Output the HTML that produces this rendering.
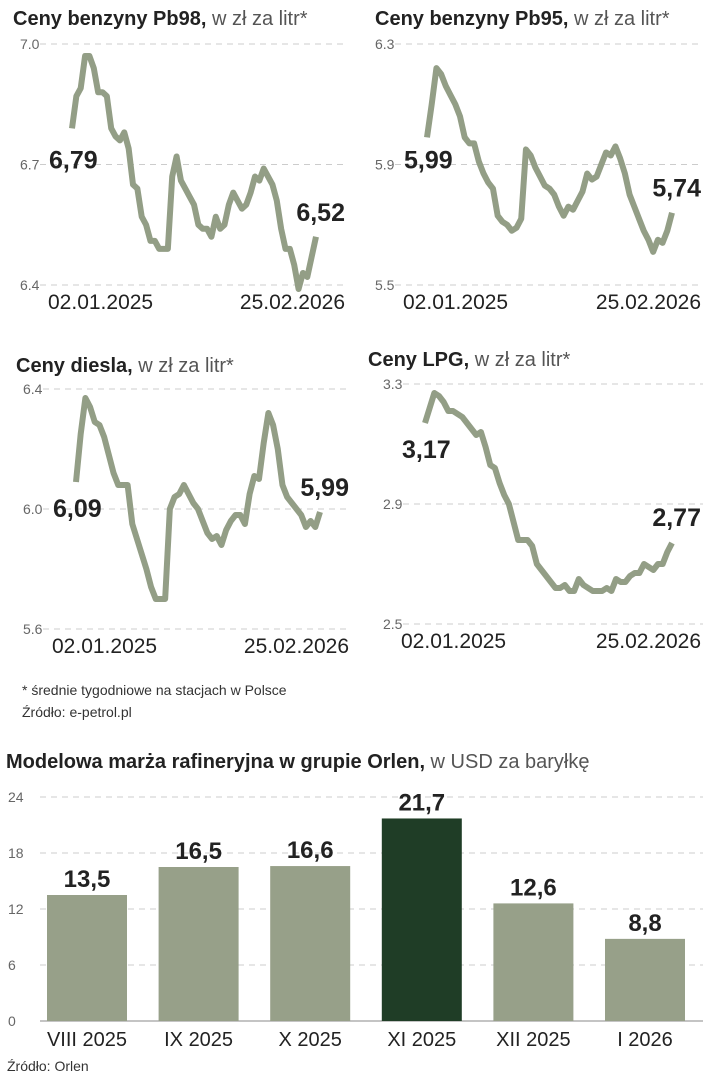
<!DOCTYPE html>
<html><head><meta charset="utf-8"><style>
body{margin:0;background:#fff;width:703px;height:1080px;overflow:hidden;font-family:"Liberation Sans",sans-serif;color:#222}
svg{position:absolute;left:0;top:0}
text{font-family:"Liberation Sans",sans-serif}
</style></head><body>
<svg id="s" width="703" height="1080"></svg>
<script>
const pb98Values=[6.79,6.87,6.89,6.97,6.97,6.94,6.88,6.88,6.87,6.79,6.77,6.76,6.78,6.74,6.65,6.64,6.57,6.55,6.51,6.51,6.49,6.49,6.49,6.67,6.72,6.66,6.64,6.62,6.60,6.55,6.54,6.54,6.52,6.57,6.54,6.55,6.60,6.63,6.61,6.59,6.60,6.63,6.67,6.66,6.69,6.67,6.65,6.61,6.54,6.49,6.49,6.45,6.39,6.43,6.42,6.47,6.52];
const pb95Values=[5.99,6.10,6.22,6.20,6.16,6.13,6.10,6.06,5.99,5.97,5.97,5.91,5.87,5.84,5.82,5.73,5.71,5.70,5.68,5.69,5.72,5.95,5.93,5.89,5.86,5.83,5.82,5.80,5.76,5.73,5.76,5.75,5.78,5.81,5.87,5.85,5.86,5.90,5.94,5.93,5.96,5.92,5.87,5.80,5.76,5.72,5.68,5.65,5.61,5.65,5.64,5.68,5.74];
const dieselValues=[6.09,6.25,6.37,6.34,6.29,6.28,6.24,6.18,6.12,6.08,6.08,6.08,5.95,5.90,5.85,5.80,5.74,5.70,5.70,5.70,6.00,6.04,6.05,6.08,6.05,6.02,6.00,5.96,5.92,5.90,5.91,5.88,5.93,5.96,5.98,5.98,5.95,6.05,6.11,6.10,6.22,6.32,6.28,6.20,6.08,6.04,6.02,6.00,5.98,5.94,5.96,5.94,5.99];
const lpgValues=[3.17,3.22,3.27,3.26,3.24,3.21,3.21,3.20,3.19,3.17,3.15,3.13,3.14,3.09,3.03,3.02,2.97,2.93,2.90,2.84,2.78,2.78,2.78,2.76,2.70,2.68,2.66,2.64,2.62,2.62,2.63,2.61,2.61,2.65,2.63,2.62,2.61,2.61,2.61,2.62,2.61,2.65,2.64,2.64,2.66,2.67,2.67,2.70,2.69,2.68,2.70,2.70,2.74,2.77];
const pb98Ticks=["6.4","6.7","7.0"];
const pb95Ticks=["5.5","5.9","6.3"];
const dieselTicks=["5.6","6.0","6.4"];
const lpgTicks=["2.5","2.9","3.3"];
const barCategories=["VIII 2025","IX 2025","X 2025","XI 2025","XII 2025","I 2026"];
const barValues=[13.5,16.5,16.6,21.7,12.6,8.8];
const barTicks=[0,6,12,18,24];

const S=document.getElementById('s');const NS='http://www.w3.org/2000/svg';
function el(t,a,txt){const e=document.createElementNS(NS,t);for(const k in a)e.setAttribute(k,a[k]);if(txt!=null)e.textContent=txt;S.appendChild(e);return e;}
function fmt(v){return v.toFixed(2).replace('.',',');}

function lineChart(o){
  const min=parseFloat(o.ticks[0]),max=parseFloat(o.ticks[o.ticks.length-1]);
  const y=v=>o.yTop+(max-v)/(max-min)*(o.yBot-o.yTop);
  const x=i=>o.x0+i*(o.x1-o.x0)/(o.vals.length-1);
  let t=el('text',{x:o.tx,y:o.titleY,'font-size':20,'font-weight':'bold','fill':'#222'});
  
  const b=document.createElementNS(NS,'tspan');b.textContent=o.title;t.appendChild(b);
  const n=document.createElementNS(NS,'tspan');n.setAttribute('font-weight','normal');n.setAttribute('fill','#555');n.textContent=' w zł za litr*';t.appendChild(n);
  o.ticks.forEach(tk=>{const v=parseFloat(tk);
    const g=el('line',{x1:o.gx0,x2:o.gx1,y1:y(v),y2:y(v),stroke:'#ccc','stroke-width':1,'stroke-dasharray':'6,5'});
    
    const l=el('text',{x:o.gx0-20,y:y(v)+5,'font-size':14,fill:'#666'},tk);
    
  });
  const p=el('polyline',{points:o.vals.map((v,i)=>x(i)+','+y(v)).join(' '),fill:'none',stroke:'#939e86','stroke-width':6,'stroke-linejoin':'round'});
  
  const d1=el('text',{x:o.x0-24,y:o.yBot+24,'font-size':21,fill:'#222'},'02.01.2025');
  
  const d2=el('text',{x:o.x1+29,y:o.yBot+24,'font-size':21,fill:'#222','text-anchor':'end'},'25.02.2026');
  
  const f=o.vals[0],l=o.vals[o.vals.length-1];
  const a=el('text',{x:o.x0-23,y:y(f)+o.fdy,'font-size':25,'font-weight':'bold',fill:'#222'},fmt(f));
  
  const c=el('text',{x:o.x1+29,y:y(l)-o.ldy,'font-size':25,'font-weight':'bold',fill:'#222','text-anchor':'end'},fmt(l));
  
}
lineChart({name:'pb98',title:'Ceny benzyny Pb98,',vals:pb98Values,ticks:pb98Ticks,tx:13,titleY:25,yTop:44,yBot:285,x0:72,x1:316,gx0:40,gx1:345,fdy:40,ldy:16});
lineChart({name:'pb95',title:'Ceny benzyny Pb95,',vals:pb95Values,ticks:pb95Ticks,tx:375,titleY:25,yTop:44,yBot:285,x0:427,x1:672,gx0:395,gx1:703,fdy:31,ldy:16});
lineChart({name:'diesel',title:'Ceny diesla,',vals:dieselValues,ticks:dieselTicks,tx:16,titleY:372,yTop:389,yBot:629,x0:76,x1:320,gx0:43,gx1:350,fdy:35,ldy:16});
lineChart({name:'lpg',title:'Ceny LPG,',vals:lpgValues,ticks:lpgTicks,tx:368,titleY:366,yTop:384,yBot:624,x0:425,x1:672,gx0:403,gx1:703,fdy:35,ldy:17});

const fn=el('text',{x:22,y:695,'font-size':14,fill:'#333'},'* średnie tygodniowe na stacjach w Polsce');

const src1=el('text',{x:22,y:717,'font-size':14,fill:'#333'},'Źródło: e-petrol.pl');


// bar chart
const bt=el('text',{x:6,y:768,'font-size':20,'font-weight':'bold',fill:'#222'});

const bt1=document.createElementNS(NS,'tspan');bt1.textContent='Modelowa marża rafineryjna w grupie Orlen,';bt.appendChild(bt1);
const bt2=document.createElementNS(NS,'tspan');bt2.setAttribute('font-weight','normal');bt2.setAttribute('fill','#555');bt2.textContent=' w USD za baryłkę';bt.appendChild(bt2);
const by=v=>1021-v/24*224;
barTicks.forEach(v=>{
  const g=el('line',{x1:40,x2:703,y1:by(v),y2:by(v),stroke:v===0?'#888':'#ccc','stroke-width':1,'stroke-dasharray':v===0?'':'6,5'});
  
  const l=el('text',{x:8,y:by(v)+5,'font-size':14,fill:'#666'},String(v));
  
});
const bx=i=>47+i*111.6;
barCategories.forEach((c,i)=>{
  const v=barValues[i];
  const r=el('rect',{x:bx(i),y:by(v),width:80,height:by(0)-by(v),fill:v===Math.max(...barValues)?'#1f3d26':'#97a089'});
  
  const t=el('text',{x:bx(i)+40,y:by(v)-8,'font-size':24,'font-weight':'bold',fill:'#222','text-anchor':'middle'},v.toFixed(1).replace('.',','));
  
  const cl=el('text',{x:bx(i)+40,y:1046,'font-size':20,fill:'#222','text-anchor':'middle'},c);
  
});
const src2=el('text',{x:7,y:1071,'font-size':14,fill:'#333'},'Źródło: Orlen');

</script>
</body></html>
